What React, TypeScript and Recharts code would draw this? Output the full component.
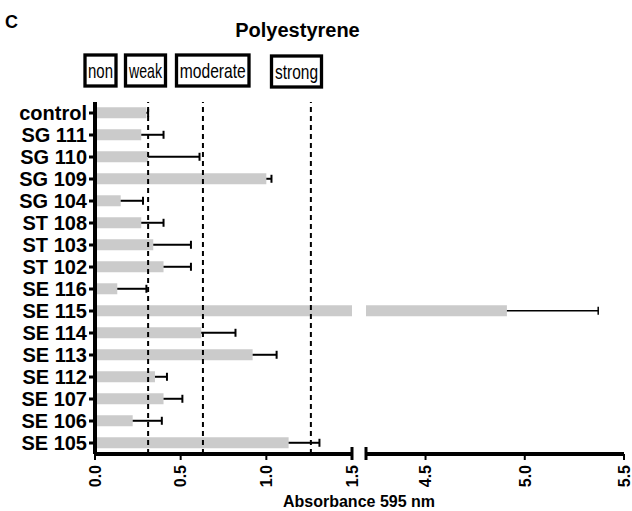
import React from 'react';
import { BarChart, Bar, XAxis, YAxis, ReferenceLine } from 'recharts';

const categories = [
  'control', 'SG 111', 'SG 110', 'SG 109', 'SG 104', 'ST 108', 'ST 103', 'ST 102',
  'SE 116', 'SE 115', 'SE 114', 'SE 113', 'SE 112', 'SE 107', 'SE 106', 'SE 105',
];
const means = [0.30, 0.27, 0.31, 1.00, 0.15, 0.27, 0.34, 0.40, 0.13, 4.91, 0.62, 0.92, 0.35, 0.40, 0.22, 1.13];
const errors = [0.01, 0.13, 0.30, 0.03, 0.13, 0.13, 0.22, 0.16, 0.17, 0.46, 0.20, 0.14, 0.07, 0.11, 0.17, 0.18];
const cutoffs = [0.31, 0.63, 1.26];
const leftTicks = [0, 0.5, 1.0, 1.5];
const rightTicks = [4.2, 4.5, 5.0, 5.5];
const breakAt = 1.5;
const resumeAt = 4.2;
const axisMax = 5.5;

const legendBoxes = [
  { label: 'non', x: 85, w: 31, textW: 25 },
  { label: 'weak', x: 125.5, w: 40, textW: 33 },
  { label: 'moderate', x: 176.5, w: 72.5, textW: 66 },
  { label: 'strong', x: 271.5, w: 50, textW: 43 },
];

const leftData = categories.map((name, i) => ({
  name,
  mean: Math.min(means[i], breakAt),
  err: means[i] > breakAt ? null : errors[i],
}));

const rightData = categories.map((name, i) => ({
  name,
  mean: means[i] > breakAt ? means[i] : null,
  err: means[i] > breakAt ? errors[i] : null,
}));

const FONT = '"Liberation Sans", Arial, sans-serif';
const BAR_FILL = '#cbcbcb';

// one-sided error bar drawn as a stacked segment: line + cap at the far end
const ErrorShape = (props: any) => {
  const { x, y, width, height, payload, lineWidth = 2 } = props;
  if (payload?.err == null || !width) return null;
  const cy = y + height / 2;
  const xEnd = x + width;
  return (
    <g stroke="#000" strokeWidth={lineWidth}>
      <line x1={x} y1={cy} x2={xEnd} y2={cy} />
      <line x1={xEnd} y1={cy - 4} x2={xEnd} y2={cy + 4} />
    </g>
  );
};

const AxisTick = (props: any) => {
  const { x, y, payload, capAt, hideAt } = props;
  const v = payload.value;
  const axisY = y - 10;
  return (
    <g>
      {v === capAt && <line x1={x} x2={x} y1={axisY - 7} y2={axisY + 6} stroke="#000" strokeWidth={3} />}
      {v !== hideAt && (
        <text
          x={x}
          y={y + 1}
          transform={`rotate(-90 ${x} ${y + 1})`}
          textAnchor="end"
          dy="0.36em"
          fill="#000"
          fontSize={16}
          fontWeight={700}
          fontFamily={FONT}
        >
          {v.toFixed(1)}
        </text>
      )}
    </g>
  );
};

const chartMargin = { top: 102, bottom: 0 };

const App = () => {
  return (
    <div style={{ position: 'absolute', left: 0, top: 0, width: 632, height: 511, background: '#fff' }}>
      <div style={{ position: 'absolute', left: 0, top: 0 }}>
        <BarChart
          layout="vertical"
          width={360}
          height={511}
          data={leftData}
          margin={{ ...chartMargin, left: 0, right: 8 }}
          barCategoryGap="24%"
        >
          <XAxis
            type="number"
            domain={[0, breakAt]}
            ticks={leftTicks}
            allowDataOverflow
            height={57}
            axisLine={{ stroke: '#000', strokeWidth: 4 }}
            tickLine={{ stroke: '#000', strokeWidth: 2 }}
            tickSize={6}
            tickMargin={4}
            tick={<AxisTick capAt={breakAt} />}
            interval={0}
          />
          <YAxis
            type="category"
            dataKey="name"
            width={95}
            axisLine={{ stroke: '#000', strokeWidth: 4 }}
            tickLine={{ stroke: '#000', strokeWidth: 3 }}
            tickSize={6}
            tickMargin={2}
            interval={0}
            tick={{ fill: '#000', fontSize: 20, fontWeight: 700, fontFamily: FONT }}
          />
          {cutoffs.map((c) => (
            <ReferenceLine key={c} x={c} stroke="#000" strokeWidth={2} strokeDasharray="5 4" />
          ))}
          <Bar dataKey="mean" stackId="a" fill={BAR_FILL} isAnimationActive={false} />
          <Bar dataKey="err" stackId="a" shape={<ErrorShape lineWidth={2} />} isAnimationActive={false} />
        </BarChart>
      </div>
      <div style={{ position: 'absolute', left: 0, top: 0 }}>
        <BarChart
          layout="vertical"
          width={632}
          height={511}
          data={rightData}
          margin={{ ...chartMargin, left: 366, right: 8 }}
          barCategoryGap="24%"
        >
          <XAxis
            type="number"
            domain={[resumeAt, axisMax]}
            ticks={rightTicks}
            allowDataOverflow
            height={57}
            axisLine={{ stroke: '#000', strokeWidth: 4 }}
            tickLine={{ stroke: '#000', strokeWidth: 2 }}
            tickSize={6}
            tickMargin={4}
            tick={<AxisTick capAt={resumeAt} hideAt={resumeAt} />}
            interval={0}
          />
          <YAxis type="category" dataKey="name" hide />
          <Bar dataKey="mean" stackId="a" fill={BAR_FILL} isAnimationActive={false} />
          <Bar dataKey="err" stackId="a" shape={<ErrorShape lineWidth={1.5} />} isAnimationActive={false} />
        </BarChart>
      </div>
      <svg
        width={632}
        height={511}
        style={{ position: 'absolute', left: 0, top: 0, pointerEvents: 'none' }}
      >
        <text x={5} y={28} fontSize={18} fontWeight={700} fontFamily={FONT} fill="#000">C</text>
        <text x={297.5} y={37} textAnchor="middle" fontSize={20} fontWeight={700} fontFamily={FONT} fill="#000">
          Polyestyrene
        </text>
        {legendBoxes.map((b, i) => (
          <g key={b.label}>
            <rect
              x={b.x}
              y={i === 3 ? 56 : 55}
              width={b.w}
              height={31}
              fill="#fff"
              stroke="#000"
              strokeWidth={3.3}
            />
            <text
              x={b.x + b.w / 2}
              y={i === 3 ? 78.5 : 77.5}
              textAnchor="middle"
              fontSize={21}
              fontFamily={FONT}
              textLength={b.textW}
              lengthAdjust="spacingAndGlyphs"
              fill="#000"
            >
              {b.label}
            </text>
          </g>
        ))}
        <text x={359} y={507} textAnchor="middle" fontSize={16} fontWeight={700} fontFamily={FONT} fill="#000">
          Absorbance 595 nm
        </text>
      </svg>
    </div>
  );
};

export default App;
